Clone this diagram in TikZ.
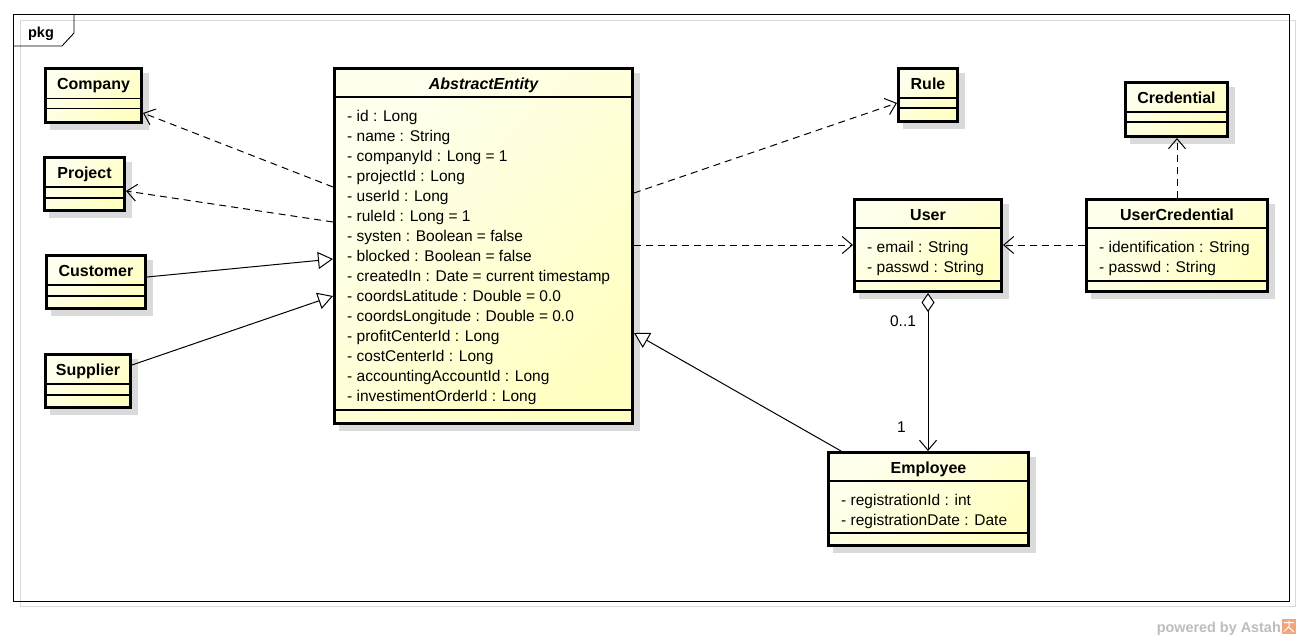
\documentclass[tikz,border=0pt]{standalone}
\usepackage{fontspec}
\setmainfont{Liberation Sans}
\usetikzlibrary{arrows.meta,calc}

\definecolor{classtop}{HTML}{FFFFEE}
\definecolor{classbot}{HTML}{FFFFC2}
\definecolor{shadowgray}{HTML}{DADADA}
\definecolor{framegray}{HTML}{D8D8D8}
\definecolor{brandgray}{HTML}{BDBDBD}
\definecolor{brandorange}{HTML}{F4A57C}

\tikzset{
  classbox/.style={draw=black, line width=3pt, top color=classtop,
    bottom color=classbot, shading angle=45, inner sep=0pt},
  sepline/.style={line width=1.2pt},
  titletext/.style={font=\fontsize{16}{19}\selectfont\bfseries, inner sep=0pt},
  attrtext/.style={font=\fontsize{15.5}{18}\selectfont, inner sep=0pt, anchor=base west},
  multtext/.style={font=\fontsize{15.5}{18}\selectfont, inner sep=0pt, anchor=base},
  dep/.style={line width=1pt, dash pattern=on 7pt off 5pt,
    -{Straight Barb[length=10pt,width=17pt]}},
  generalize/.style={line width=1pt, -{Triangle[fill=white,length=15pt,width=17pt]}},
  aggregate/.style={line width=1pt,
    {Diamond[fill=white,length=19pt,width=13pt]}-{Straight Barb[length=10pt,width=17pt]}},
}

% class box: name, x1, y1, x2, y2 (outer edges), first and second separator, title
\newcommand\umlclass[8]{%
  \fill[shadowgray] ({#2+6},{#3+6}) rectangle ({#4+6},{#5+6});
  \node[classbox, anchor=north west,
        minimum width={(#4-#2-3)*1pt}, minimum height={(#5-#3-3)*1pt}] (#1) at (#2,#3) {};
  \draw[sepline] ({#2+1.5},#6) -- ({#4-1.5},#6);
  \draw[sepline] ({#2+1.5},#7) -- ({#4-1.5},#7);
  \node[titletext, anchor=base] (#1-title) at ({(#2+#4)/2},{#3+22}) {#8};
}

\begin{document}
\begin{tikzpicture}[x=1pt,y=-1pt]
\useasboundingbox (0,0) rectangle (1301,640);
\fill[white] (0,0) rectangle (1301,640);

% package frame with its name tab
\draw[framegray, line width=1pt] (20,20) rectangle (1295,606);
\draw[line width=0.9pt] (13,14) rectangle (1289,601);
\draw[line width=0.9pt] (74,14) -- (74,33) -- (62,46) -- (13,46);
\node[font=\fontsize{14.5}{17}\selectfont\bfseries, anchor=base, inner sep=0pt] (pkg) at (41,37.5) {pkg};

% classes
\umlclass{company}{44}{67}{143}{124}{98.5}{108.5}{Company}
\umlclass{project}{43}{156}{126}{212}{187}{198}{Project}
\umlclass{customer}{45}{254}{147}{310}{285}{296}{Customer}
\umlclass{supplier}{44}{353}{132}{409}{384}{395}{Supplier}
\umlclass{ae}{333}{67}{634}{425}{97}{410}{\itshape AbstractEntity}
\umlclass{rule}{897}{67}{959}{123}{98}{108}{Rule}
\umlclass{credential}{1124}{81}{1229}{138}{112}{122}{Credential}
\umlclass{user}{853}{198}{1003}{293}{228}{281}{User}
\umlclass{usercred}{1085}{198}{1269}{293}{228}{281}{UserCredential}
\umlclass{employee}{827}{451}{1030}{547}{481}{533}{Employee}

% attributes
\foreach \t [count=\i from 0] in {
  - id : Long,
  - name : String,
  - companyId : Long = 1,
  - projectId : Long,
  - userId : Long,
  - ruleId : Long = 1,
  - systen : Boolean = false,
  - blocked : Boolean = false,
  - createdIn : Date = current timestamp,
  - coordsLatitude : Double = 0.0,
  - coordsLongitude : Double = 0.0,
  - profitCenterId : Long,
  - costCenterId : Long,
  - accountingAccountId : Long,
  - investimentOrderId : Long}
  \node[attrtext] (ae-a\i) at (347,{121.5+20*\i}) {\t};

\node[attrtext] (user-a0) at (867,252.5) {- email : String};
\node[attrtext] (user-a1) at (867,272.5) {- passwd : String};
\node[attrtext] (usercred-a0) at (1099,252.5) {- identification : String};
\node[attrtext] (usercred-a1) at (1099,272.5) {- passwd : String};
\node[attrtext] (employee-a0) at (841,505.5) {- registrationId : int};
\node[attrtext] (employee-a1) at (841,525.5) {- registrationDate : Date};

% dependencies
\draw[dep] ($(ae.north west)+(0,120)$) -- ($(company.north east)+(0,46)$);
\draw[dep] ($(ae.north west)+(0,155)$) -- ($(project.north east)+(0,35)$);
\draw[dep] ($(ae.north east)+(0,126)$) -- ($(rule.north west)+(0,36)$);
\draw[dep] ($(ae.north east)+(0,178)$) -- ($(user.north west)+(0,47)$);
\draw[dep] ($(usercred.north west)+(0,47)$) -- ($(user.north east)+(0,47)$);
\draw[dep] ($(usercred.north west)+(92,0)$) -- ($(credential.south west)+(53,0)$);

% generalizations
\draw[generalize] ($(customer.north east)+(0,23)$) -- ($(ae.north west)+(0,192)$);
\draw[generalize] ($(supplier.north east)+(0,12)$) -- ($(ae.north west)+(0,229)$);
\draw[generalize] ($(employee.north west)+(14,0)$) -- ($(ae.north east)+(0,266)$);

% aggregation with multiplicities
\draw[aggregate] ($(user.south west)+(75,0)$) -- ($(employee.north west)+(101,0)$);
\node[multtext] (mult-user) at (903,326) {0..1};
\node[multtext] (mult-emp) at (901.5,432.5) {1};

% tool credit
\node[font=\fontsize{14.4}{17}\selectfont\bfseries, text=brandgray, anchor=base east, inner sep=0pt]
  (credit) at (1281,632) {powered by Astah};
\fill[brandorange] (1282,619) rectangle (1296,634);
\draw[white, line width=1pt] (1284,622.5) -- (1294,622.5)
  (1289,620.5) -- (1289,626.5)
  (1284,631.5) -- (1288.5,627) -- (1294,632);
\end{tikzpicture}
\end{document}
